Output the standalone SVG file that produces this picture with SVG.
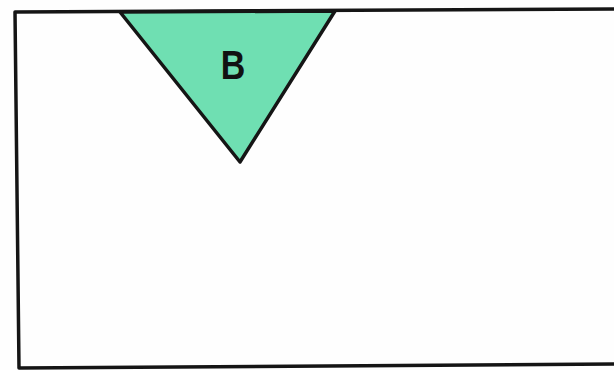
<svg xmlns="http://www.w3.org/2000/svg" width="614" height="370" viewBox="0 0 614 370">
<style>
.edge{fill:none;stroke:#151515;stroke-width:3.5;stroke-linecap:round;stroke-linejoin:round}
.tri{fill:#6fdfb2;stroke:#151515;stroke-width:3.5;stroke-linejoin:round}
.lbl{font-family:"Liberation Sans",Arial,sans-serif;font-weight:bold;font-size:40px;fill:#111}
</style>
<rect x="0" y="0" width="614" height="370" fill="#fefefe"/>
<g id="frame">
<path class="edge" d="M614,9 L15,12 L19,368 L614,364"/>
</g>
<g id="node-B">
<polygon class="tri" points="120,12 335,11 240,162"/>
<text class="lbl" x="233" y="79" text-anchor="middle" transform="translate(233 0) scale(0.85 1) translate(-233 0)">B</text>
</g>
<g id="connectors"></g>
</svg>
